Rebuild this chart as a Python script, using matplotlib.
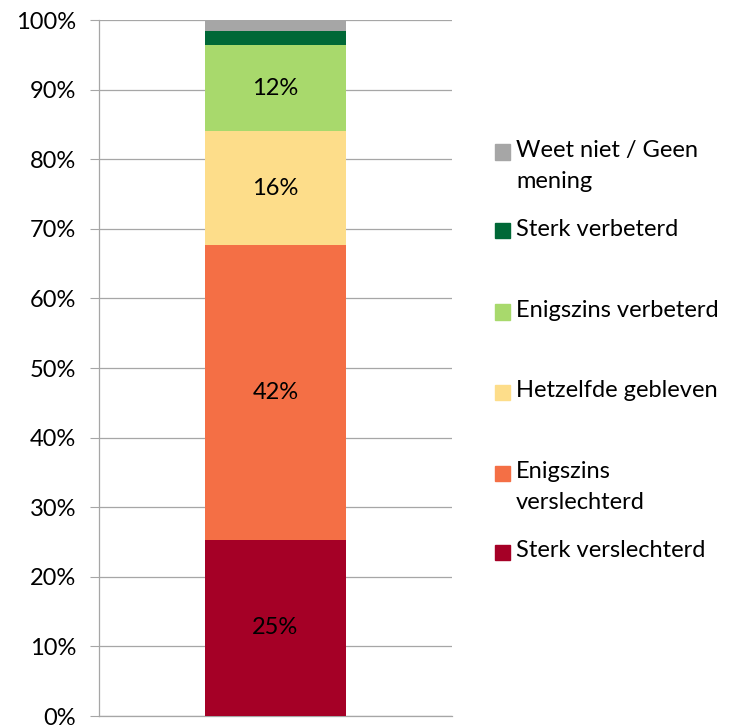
import numpy as np
import matplotlib
matplotlib.use("Agg")
import matplotlib.pyplot as plt
from matplotlib.patches import Rectangle

plt.rcParams['font.family'] = ['Lato', 'DejaVu Sans']

categories = ["Sterk verslechterd", "Enigszins\nverslechterd", "Hetzelfde gebleven",
              "Enigszins verbeterd", "Sterk verbeterd", "Weet niet / Geen\nmening"]
values = [25.3, 42.4, 16.3, 12.4, 2.0, 1.6]
colors = ["#A50026", "#F46F45", "#FDDD8A", "#A8D96C", "#006837", "#A6A6A6"]
show_label = [True, True, True, True, False, False]
yticks = np.arange(0, 101, 10)

fig = plt.figure(figsize=(7.31, 7.25), dpi=100)
ax = fig.add_axes([0.1354, 0.0124, 0.4829, 0.96])

bottom = 0
for v, c, show in zip(values, colors, show_label):
    ax.bar(0, v, bottom=bottom, width=0.4, color=c, zorder=3)
    if show:
        ax.text(0, bottom + v / 2, f"{v:.0f}%", ha='center', va='center',
                fontsize=17, color='black', zorder=4)
    bottom += v

ax.set_xlim(-0.5, 0.5)
ax.set_ylim(0, 100)
ax.set_xticks([])
ax.set_yticks(yticks)
ax.set_yticklabels([f"{t}%" for t in yticks], fontsize=17)
ax.tick_params(axis='y', length=6.5, width=0.8, color='#A6A6A6', pad=10)
ax.grid(axis='y', color='#A6A6A6', linewidth=0.9, zorder=0)
for s in ['top', 'right']:
    ax.spines[s].set_visible(False)
for s in ['left', 'bottom']:
    ax.spines[s].set_color('#A6A6A6')
    ax.spines[s].set_linewidth(0.9)

# legend, drawn by hand to keep Excel's spacing
W, H = 731, 725
leg_y = [152, 231, 312, 392, 473, 552]
order = [5, 4, 3, 2, 1, 0]
for y, i in zip(leg_y, order):
    fig.patches.append(Rectangle((495 / W, 1 - (y + 7.5) / H), 15 / W, 15 / H,
                                 transform=fig.transFigure, color=colors[i]))
    fig.text(516 / W, 1 - (y - 12) / H, categories[i], ha='left', va='top',
             fontsize=17, linespacing=1.6)

fig.savefig("out.png", dpi=100)
